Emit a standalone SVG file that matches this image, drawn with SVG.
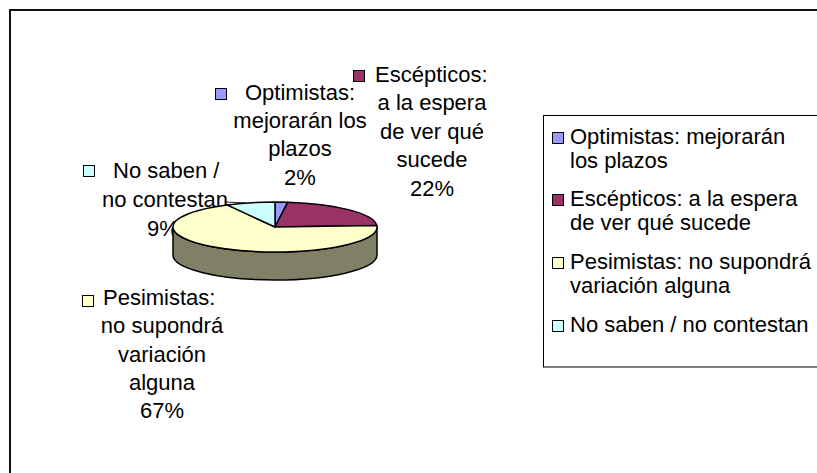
<svg xmlns="http://www.w3.org/2000/svg" width="817" height="473" viewBox="0 0 817 473">
  <style>
    text { font-family: "Liberation Sans", Arial, sans-serif; font-size: 22px; fill: #000; }
    .c { text-anchor: middle; }
    .slice { stroke: #000; stroke-width: 1.5; stroke-linejoin: round; }
    .key { stroke: #000; stroke-width: 1; }
    .opt { fill: #9999FF; }
    .esc { fill: #993366; }
    .pes { fill: #FFFFCC; }
    .nos { fill: #CCFFFF; }
    .side { fill: #808066; }
  </style>
  <rect x="0" y="0" width="817" height="473" fill="#fff"/>
  <path d="M10,473 L10,10 L817,10" fill="none" stroke="#111" stroke-width="2"/>

  <!-- data labels (drawn beneath pie) -->
  <g id="label-optimistas">
    <rect class="key opt" x="215.5" y="88.5" width="11" height="11"/>
    <text class="c" x="300" y="100">Optimistas:</text>
    <text class="c" x="300" y="128">mejorarán los</text>
    <text class="c" x="300" y="156">plazos</text>
    <text class="c" x="300" y="185">2%</text>
  </g>
  <g id="label-escepticos">
    <rect class="key esc" x="353.5" y="70.5" width="11" height="11"/>
    <text x="375" y="82">Escépticos:</text>
    <text class="c" x="432" y="110">a la espera</text>
    <text class="c" x="432" y="139">de ver qué</text>
    <text class="c" x="432" y="167">sucede</text>
    <text class="c" x="432" y="196">22%</text>
  </g>
  <g id="label-nosaben">
    <rect class="key nos" x="83.5" y="165.5" width="11" height="11"/>
    <text x="113" y="178">No saben /</text>
    <text class="c" x="165" y="207">no contestan</text>
    <text class="c" x="163" y="236">9%</text>
  </g>
  <g id="label-pesimistas">
    <rect class="key pes" x="82.5" y="295.5" width="11" height="11"/>
    <text x="103" y="305">Pesimistas:</text>
    <text class="c" x="162" y="333">no supondrá</text>
    <text class="c" x="162" y="362">variación</text>
    <text class="c" x="162" y="390">alguna</text>
    <text class="c" x="162" y="418">67%</text>
  </g>

  <g id="connectors">
    <line x1="226" y1="202" x2="246" y2="203" stroke="#222" stroke-width="1"/>
  </g>

  <!-- pie -->
  <g id="pie">
    <path class="slice side" d="M173,227 A102,25 0 0 0 377,227 L377,255 A102,25 0 0 1 173,255 Z"/>
    <path id="slice-optimistas" class="slice opt" d="M275,227 L275,202 A102,25 0 0 1 287.8,202.2 Z"/>
    <path id="slice-escepticos" class="slice esc" d="M275,227 L287.8,202.2 A102,25 0 0 1 376.8,225.4 Z"/>
    <path id="slice-pesimistas" class="slice pes" d="M275,227 L376.8,225.4 A102,25 0 1 1 227.1,204.9 Z"/>
    <path id="slice-nosaben" class="slice nos" d="M275,227 L227.1,204.9 A102,25 0 0 1 275,202 Z"/>
  </g>

  <!-- legend -->
  <g id="legend">
    <rect x="543.5" y="115.5" width="300" height="251.5" fill="#fff" stroke="#000" stroke-width="1"/>
    <rect class="key opt" x="552.5" y="132.5" width="11" height="11"/>
    <text x="570" y="144">Optimistas: mejorarán</text>
    <text x="570" y="168">los plazos</text>
    <rect class="key esc" x="552.5" y="194.5" width="11" height="11"/>
    <text x="570" y="206">Escépticos: a la espera</text>
    <text x="570" y="230">de ver qué sucede</text>
    <rect class="key pes" x="552.5" y="257.5" width="11" height="11"/>
    <text x="570" y="269">Pesimistas: no supondrá</text>
    <text x="570" y="293">variación alguna</text>
    <rect class="key nos" x="552.5" y="320.5" width="11" height="11"/>
    <text x="570" y="332">No saben / no contestan</text>
  </g>
</svg>
